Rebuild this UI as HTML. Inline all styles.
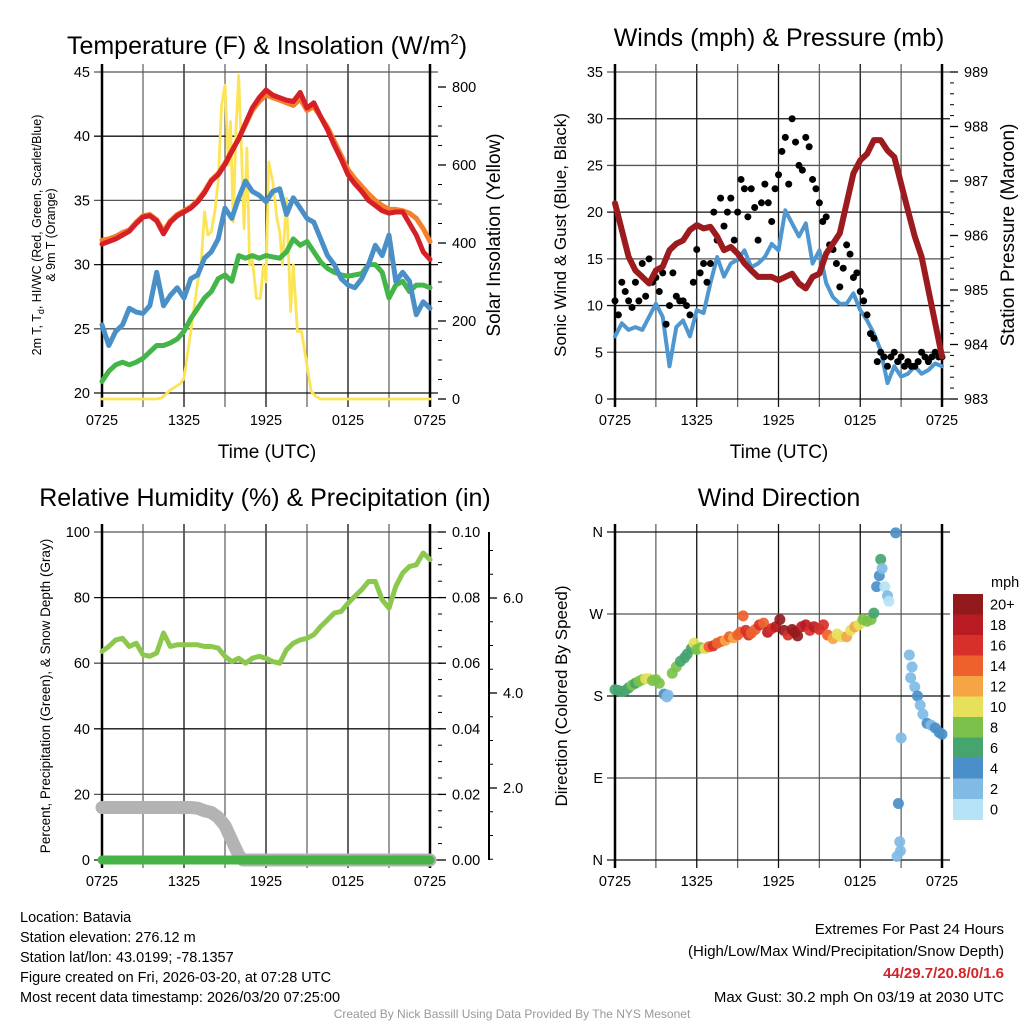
<!DOCTYPE html>
<html><head><meta charset="utf-8">
<style>
html,body{margin:0;padding:0;background:#fff;}
svg{display:block;font-family:"Liberation Sans",Arial,sans-serif;}
</style></head>
<body>
<svg id="chart" width="1024" height="1024" viewBox="0 0 1024 1024" xmlns="http://www.w3.org/2000/svg">
<rect x="0" y="0" width="1024" height="1024" fill="#fff"/>
<g><text x="267" y="54" font-size="25" text-anchor="middle">Temperature (F) &amp; Insolation (W/m<tspan font-size="15" dy="-10">2</tspan><tspan dy="10">)</tspan></text></g>
<text x="779" y="46" font-size="25" text-anchor="middle">Winds (mph) &amp; Pressure (mb)</text>
<text x="265" y="506" font-size="25" text-anchor="middle">Relative Humidity (%) &amp; Precipitation (in)</text>
<text x="779" y="506" font-size="25" text-anchor="middle">Wind Direction</text>
<text x="267" y="458" font-size="19" text-anchor="middle">Time (UTC)</text>
<text x="779" y="458" font-size="19" text-anchor="middle">Time (UTC)</text>
<g transform="translate(41,235) rotate(-90)"><text x="0" y="0" font-size="12.5" text-anchor="middle">2m T, T<tspan font-size="9" dy="3">d</tspan><tspan dy="-3">, HI/WC (Red, Green, Scarlet/Blue)</tspan></text><text x="0" y="14" font-size="12.5" text-anchor="middle">&amp; 9m T (Orange)</text></g>
<text transform="translate(500,235) rotate(-90)" font-size="19" text-anchor="middle">Solar Insolation (Yellow)</text>
<text transform="translate(566,235) rotate(-90)" font-size="17" text-anchor="middle">Sonic Wind &amp; Gust (Blue, Black)</text>
<text transform="translate(1014,235) rotate(-90)" font-size="19" text-anchor="middle">Station Pressure (Maroon)</text>
<text transform="translate(50,696) rotate(-90)" font-size="13.5" text-anchor="middle">Percent, Precipitation (Green), &amp; Snow Depth (Gray)</text>
<text transform="translate(567,696) rotate(-90)" font-size="17" text-anchor="middle">Direction (Colored By Speed)</text>
<g font-size="14.5">
<text x="20" y="922">Location: Batavia</text>
<text x="20" y="942">Station elevation: 276.12 m</text>
<text x="20" y="962">Station lat/lon: 43.0199; -78.1357</text>
<text x="20" y="982">Figure created on Fri, 2026-03-20, at 07:28 UTC</text>
<text x="20" y="1002">Most recent data timestamp: 2026/03/20 07:25:00</text>
</g>
<g font-size="15" text-anchor="end">
<text x="1004" y="934">Extremes For Past 24 Hours</text>
<text x="1004" y="956">(High/Low/Max Wind/Precipitation/Snow Depth)</text>
<text x="1004" y="978" fill="#d4242a" font-weight="bold">44/29.7/20.8/0/1.6</text>
<text x="1004" y="1002">Max Gust: 30.2 mph On 03/19 at 2030 UTC</text>
</g>
<text x="512" y="1018" font-size="12" fill="#999" text-anchor="middle">Created By Nick Bassill Using Data Provided By The NYS Mesonet</text>
<g id="layer"></g>
</svg>
<script>
// ---------- data ----------
const timeLabels = ['0725','1325','1925','0125','0725'];
const timeLabelHours = [0,6,12,18,24];
const tempTicks = [20,25,30,35,40,45];
const insolTicks = [0,200,400,600,800];
const windTicks = [0,5,10,15,20,25,30,35];
const presTicks = [983,984,985,986,987,988,989];
const rhTicks = [0,20,40,60,80,100];
const precipTicks = ['0.00','0.02','0.04','0.06','0.08','0.10'];
const snowTicks = [2,4,6];
const snowTickLabels = ['2.0','4.0','6.0'];
const dirTicks = [0,90,180,270,360];
const dirLabels = ['N','E','S','W','N'];
const speedBins = ['20+','18','16','14','12','10','8','6','4','2','0'];
const speedColors = ['#921a1d','#b81c22','#d7302a','#ee612c','#f5a544','#e6e05a','#7cc24a','#46a56f','#4a8fc9','#7fbbe5','#b6e3f6'];

const tempRed = [31.6,31.8,32.0,32.3,32.6,33.2,33.7,33.8,33.4,32.4,33.3,33.8,34.1,34.4,34.9,35.6,36.5,37.0,37.8,38.8,39.8,41.0,42.2,43.0,43.6,43.2,43.0,42.8,42.7,43.4,42.2,42.6,41.5,40.5,39.3,38.2,37.0,36.3,35.7,35.0,34.6,34.2,34.0,34.1,34.1,33.2,32.3,31.0,30.4];
const tempOrange = [31.9,32.0,32.2,32.5,32.7,33.3,33.8,33.9,33.5,32.6,33.4,33.9,34.2,34.5,35.0,35.7,36.6,37.1,37.9,38.9,39.8,40.9,42.0,42.7,43.2,43.0,42.8,42.6,42.4,42.9,42.0,42.3,41.5,40.7,39.6,38.5,37.4,36.7,36.1,35.5,35.0,34.6,34.3,34.3,34.2,34.0,33.6,32.8,31.8];
const tempBlue = [25.3,23.7,24.8,25.3,26.6,26.3,26.2,26.8,29.4,26.8,27.6,28.2,27.4,28.9,29.2,30.5,31.0,32.0,34.4,33.6,35.2,36.5,35.7,35.4,34.9,35.7,35.9,33.9,35.2,34.4,33.6,33.3,32.0,30.7,30.0,28.9,28.4,28.2,28.9,30.0,31.5,30.7,32.3,28.7,29.4,28.7,26.1,27.1,26.6];
const tempGreen = [20.9,21.7,22.2,22.4,22.2,22.4,22.7,23.2,23.7,23.7,23.9,24.2,24.8,25.8,26.6,27.4,27.9,28.9,29.2,28.7,30.7,30.5,30.7,30.5,30.7,30.6,30.5,31.0,32.0,31.5,31.8,31.0,30.2,29.7,29.4,29.2,29.1,29.2,29.3,30.0,30.0,29.4,27.4,28.4,28.7,27.9,28.4,28.4,28.2];
const insolHours = [0,4.0,4.4,5,5.75,6,6.5,7,7.25,7.5,7.75,8,8.25,8.5,8.75,9,9.25,9.4,9.6,9.8,10,10.2,10.4,10.6,10.8,11,11.3,11.6,11.8,12,12.2,12.5,12.8,13,13.2,13.5,13.8,14,14.3,14.6,15,15.3,15.6,16,24];
const insolValues = [0,0,3,23,40,53,173,300,344,480,420,429,480,557,754,805,600,711,454,685,830,640,437,643,344,360,258,258,344,300,608,557,463,429,344,515,224,344,173,173,87,20,8,0,0];
const windBlue = [6.7,8.1,7.4,7.7,7.4,8.8,10.2,8.8,3.5,7.7,8.4,6.7,9.5,9.2,12.4,15.2,13.1,14.5,14.9,15.9,14.1,14.5,15.2,16.6,15.9,20.2,18.8,17.4,18.8,14.5,15.9,12.4,10.9,10.2,10.2,11.3,9.5,8.4,7.0,5.2,1.7,3.5,2.4,2.7,3.5,2.7,3.1,3.8,3.5];
const windGust = [10.5,9.0,12.5,11.5,10.5,9.8,12.5,10.5,14.5,11,15,12.5,13,11.5,13.5,8,10,13.5,11,10.5,10.5,10,9,12.5,16,13.5,14.5,12.5,14.5,20,17,21.5,18.5,20,21.5,17,20,23.5,22.5,19.5,22.5,20.5,17,21,23,21,19,22.5,24,26.5,28,23,30,27.5,25,24.5,28,27,23.5,22.5,21,19,19.5,16.5,16,14.5,12,14,16.5,15.5,13,13.5,11.5,10.5,9,7,6.5,4,5,4.5,3.5,4.5,5,4,4.5,3.5,4,3.5,3.5,4,5,4.5,4,4.5,5,4.5,4.5];
const pressure = [986.59,986.10,985.61,985.36,985.24,985.12,985.36,985.43,985.73,985.85,985.91,986.10,986.19,986.13,986.16,985.98,985.73,985.79,985.67,985.49,985.36,985.24,985.24,985.24,985.18,985.24,985.30,985.12,985.03,985.24,985.30,985.67,985.85,986.04,986.59,987.14,987.38,987.50,987.75,987.75,987.56,987.44,986.95,986.46,985.98,985.61,985.00,984.39,983.78];
const rh = [63.6,65.1,67.1,67.6,65.1,66.1,62.6,62.1,63.1,69.2,65.1,65.6,65.6,65.6,65.6,65.1,65.1,64.6,62.1,60.5,61.5,60.0,61.5,62.1,61.5,60.5,60.0,64.1,66.1,67.1,67.6,68.7,71.2,73.2,75.3,75.8,78.3,80.4,82.4,84.9,84.9,79.3,76.8,83.4,87.5,89.5,90.0,93.6,91.6];
const precip = [0,0,0,0,0,0,0,0,0,0,0,0,0,0,0,0,0,0,0,0,0,0,0,0,0];
const snowHours = [0,1,2,3,4,5,6,6.5,7,7.5,8,8.5,9,9.5,10,10.3,24];
const snowDepth = [1.6,1.6,1.6,1.6,1.6,1.6,1.6,1.6,1.58,1.5,1.45,1.3,1.05,0.6,0.15,0,0];
const dirHours = [0,0.25,0.5,0.75,1,1.25,1.5,1.75,2,2.25,2.5,2.75,3,3.25,3.6,3.8,3.9,4.2,4.5,4.8,5.1,5.3,5.6,5.8,6,6.3,6.6,6.9,7.2,7.5,7.8,8.1,8.4,8.7,9,9.2,9.4,9.6,9.8,10,10.3,10.6,10.9,11.2,11.5,11.8,12.1,12.4,12.7,13,13.2,13.4,13.7,14,14.3,14.6,15,15.3,15.6,16,16.3,16.6,17,17.3,17.6,17.9,18.2,18.5,18.8,19.0,19.2,19.4,19.5,19.6,19.8,20.0,20.1,20.6,20.8,20.9,20.95,20.7,21.0,21.6,21.8,21.7,22,22.2,22.4,22.6,22.9,23.2,23.5,23.8,24];
const dirDeg = [187,186,185,186,189,192,194,196,198,199,199,197,198,194,182,179,181,205,212,218,222,226,232,238,231,233,232,234,235,238,240,241,245,244,247,250,268,252,247,249,253,258,260,250,254,256,264,252,247,253,250,246,256,258,252,256,253,258,247,243,248,245,245,252,256,258,264,262,264,271,300,312,330,320,300,290,284,359,62,20,10,4,134,225,212,200,190,180,170,160,150,148,145,140,138];
const dirSpeed = [7,6,7,6,7,8,7,8,9,10,10,9,8,8,5,3,2,8,8,6,6,6,6,10,8,8,10,15,16,14,14,12,14,12,14,14,15,16,16,14,14,16,15,18,16,18,20,20,16,20,20,20,18,18,16,18,16,16,14,12,10,10,12,11,12,10,8,8,9,6,4,4,6,3,1,2,1,4,4,3,2,3,2,3,2,3,2,4,2,3,4,3,4,4,4];

// ---------- drawing ----------
const NS='http://www.w3.org/2000/svg';
const layer=document.getElementById('layer');
function mk(tag,attrs,parent){const e=document.createElementNS(NS,tag);for(const k in attrs)e.setAttribute(k,attrs[k]);(parent||layer).appendChild(e);return e;}
function xs(x0,x1){return h=>x0+h*(x1-x0)/24;}
function lin(d0,d1,r0,r1){return v=>r0+(v-d0)*(r1-r0)/(d1-d0);}
function pathD(hs,vals,X,Y){return vals.map((v,i)=>(i?'L':'M')+X(hs[i]).toFixed(1)+','+Y(v).toFixed(1)).join('');}
function halfHours(n){return Array.from({length:n},(_,i)=>i*24/(n-1));}

function frame(name,x0,x1,y0,y1,yTicks,Y,leftLabels){
  const g=mk('g',{});
  
  
  const X=xs(x0,x1);
  for(let h=0;h<=24;h+=3){
    const l=mk('line',{x1:X(h),x2:X(h),y1:y0-8,y2:y1+8,stroke:(h%6?'#666':'#111'),'stroke-width':1.3},g);
    
    
  }
  yTicks.forEach((t,i)=>{
    const y=Y(t);
    const l=mk('line',{x1:x0-8,x2:x1+8,y1:y,y2:y,stroke:(i%2?'#555':'#111'),'stroke-width':1.3},g);
    
    
    const tx=mk('text',{x:x0-12,y:y+5,'font-size':14.5,'text-anchor':'end'},g);
    tx.textContent=leftLabels?leftLabels[i]:t;
    
    
  });
  mk('line',{x1:x0,x2:x0,y1:y0-8,y2:y1+8,stroke:'#000','stroke-width':2.5},g);
  mk('line',{x1:x1,x2:x1,y1:y0-8,y2:y1+8,stroke:'#000','stroke-width':2.5},g);
  timeLabels.forEach((s,i)=>{
    const tx=mk('text',{x:X(timeLabelHours[i]),y:y1+26,'font-size':14.5,'text-anchor':'middle'},g);
    tx.textContent=s;
    
    
  });
  return X;
}
function rightAxis(name,x,ticks,labels,Y,minorStep,y0,y1,v0,v1){
  const g=mk('g',{});
  
  
  if(minorStep){for(let v=v0;v<=v1+1e-9;v+=minorStep){const y=Y(v);if(y>=y0-0.5&&y<=y1+0.5)mk('line',{x1:x,x2:x+4,y1:y,y2:y,stroke:'#000','stroke-width':1},g);}}
  ticks.forEach((t,i)=>{const y=Y(t);mk('line',{x1:x,x2:x+8,y1:y,y2:y,stroke:'#000','stroke-width':1.3},g);
    const tx=mk('text',{x:x+14,y:y+5,'font-size':14.5},g);tx.textContent=labels[i];
    
    });
}
function series(name,hs,vals,X,Y,color,w,cap){
  const p=mk('path',{d:pathD(hs,vals,X,Y),fill:'none',stroke:color,'stroke-width':w,'stroke-linejoin':'round','stroke-linecap':cap||'round'});
  
  
  return p;
}

const T=lin(20,45,393,72), I=lin(0,800,399,87);
const X1=frame('temperature',102,430,72,399,tempTicks,T);
rightAxis('insolation-axis',438,insolTicks,insolTicks.map(String),I,50,72,399,0,800);
const hh=halfHours(49);
series('insolation-line',insolHours,insolValues,X1,I,'#fde456',2.8);
series('green-temp-line',hh,tempGreen,X1,T,'#44b549',5);
series('blue-temp-line',hh,tempBlue,X1,T,'#4a90c8',5);
series('orange-temp-line',hh,tempOrange,X1,T,'#f57f2a',5);
series('red-temp-line',hh,tempRed,X1,T,'#d62027',5);

const W=lin(0,35,399,72), P=lin(983,989,399,72);
const X2=frame('winds',615,942,72,399,windTicks,W);
rightAxis('pressure-axis',950,presTicks,presTicks.map(String),P,0.2,72,399,983,989);
series('wind-speed-line',hh,windBlue,X2,W,'#4e97d1',4);
const gustH=halfHours(windGust.length);
windGust.forEach((v,i)=>{
  const c=mk('circle',{cx:X2(gustH[i]),cy:W(v),r:3.5,fill:'#000'});
  
  
});
series('pressure-line',hh,pressure,X2,P,'#9b1b1e',6);

const R=lin(0,100,860,532), S=lin(0,10,860,532), ST=lin(0,8,883,503);
const X3=frame('humidity',102,430,532,860,rhTicks,R);
rightAxis('precip-axis',438,rhTicks,precipTicks,R,5,532,860,0,100);
const sx=489;
const snowAxis=mk('line',{x1:sx,x2:sx,y1:532,y2:860,stroke:'#000','stroke-width':2});


rightAxis('snow-depth-ticks',sx,snowTicks,snowTickLabels,ST,0.5,532,860,0,8);
series('rh-line',hh,rh,X3,R,'#8dc84e',5);
series('snow-depth-line',snowHours,snowDepth,X3,S,'#b3b3b3',13);
series('precip-line',halfHours(precip.length),precip.map(v=>v*1000),X3,R,'#46b347',9);

const D=lin(0,360,860,532);
const X4=frame('wind-direction',615,942,532,860,dirTicks,D,dirLabels);
function binColor(s){let idx=10-Math.min(10,Math.floor(s/2));return speedColors[idx];}
dirDeg.forEach((d,i)=>{
  const c=mk('circle',{cx:X4(dirHours[i]),cy:D(d),r:5.5,fill:binColor(dirSpeed[i]),'fill-opacity':0.92});
  
  
});
const cb=mk('g',{});


const cbTop=594, cbH=20.5;
speedBins.forEach((lab,i)=>{
  const r=mk('rect',{x:953,y:cbTop+i*cbH,width:30,height:cbH+0.5,fill:speedColors[i]},cb);
  
  
  const t=mk('text',{x:990,y:cbTop+i*cbH+cbH/2+5,'font-size':14.5},cb);
  t.textContent=lab;
  
  
});
const mph=mk('text',{x:991,y:587,'font-size':14.5},cb);
mph.textContent='mph';


</script>
</body></html>
